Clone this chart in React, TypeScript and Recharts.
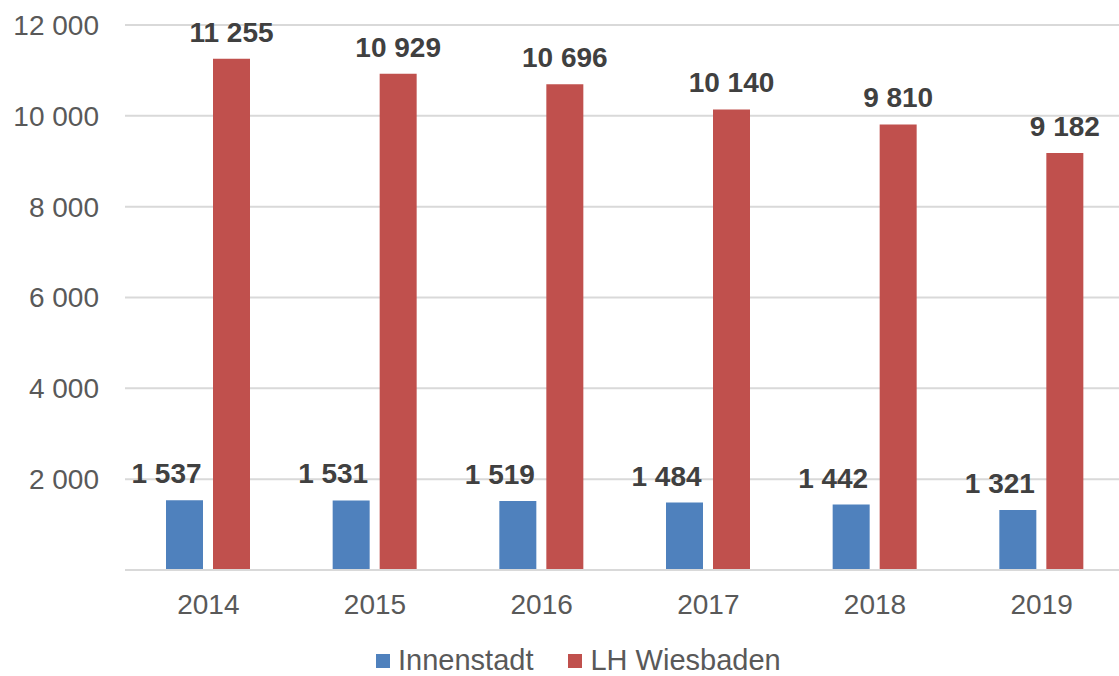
import {
  BarChart,
  Bar,
  XAxis,
  YAxis,
  CartesianGrid,
  Legend,
  LabelList,
} from "recharts";

const years = ["2014", "2015", "2016", "2017", "2018", "2019"];
const innenstadt = [1537, 1531, 1519, 1484, 1442, 1321];
const wiesbaden = [11255, 10929, 10696, 10140, 9810, 9182];
const yTicks = [0, 2000, 4000, 6000, 8000, 10000, 12000];

const BLUE = "#4F81BD";
const RED = "#C0504D";
const FONT = "'Liberation Sans', Arial, sans-serif";

const data = years.map((y, i) => ({
  year: y,
  innenstadt: innenstadt[i],
  wiesbaden: wiesbaden[i],
}));

function fmt(v: number) {
  return String(v).replace(/\B(?=(\d{3})+(?!\d))/g, " ");
}

// the value axis shows no label at zero
function fmtTick(v: number) {
  return v === 0 ? "" : fmt(v);
}

function makeLabel(dx: number) {
  return (props: any) => {
    const { x, y, width, value } = props;
    return (
      <text
        x={x + width / 2 + dx}
        y={y - 17}
        textAnchor="middle"
        fontFamily={FONT}
        fontSize={28}
        fontWeight="bold"
        fill="#404040"
      >
        {fmt(value)}
      </text>
    );
  };
}

function LegendContent() {
  const items = [
    { name: "Innenstadt", color: BLUE },
    { name: "LH Wiesbaden", color: RED },
  ];
  return (
    <div
      style={{
        display: "flex",
        alignItems: "center",
        paddingLeft: 376,
        paddingTop: 16,
        fontFamily: FONT,
        fontSize: 29,
        color: "#595959",
        lineHeight: "29px",
      }}
    >
      {items.map((it, i) => (
        <div
          key={it.name}
          style={{ display: "flex", alignItems: "center", marginRight: i === 0 ? 35 : 0 }}
        >
          <span
            style={{
              display: "inline-block",
              width: 14,
              height: 14,
              background: it.color,
              marginRight: 8,
            }}
          />
          <span>{it.name}</span>
        </div>
      ))}
    </div>
  );
}

export default function App() {
  return (
    <div
      style={{
        position: "absolute",
        left: 0,
        top: 0,
        width: 1119,
        height: 676,
        overflow: "hidden",
        background: "#fff",
      }}
    >
      <BarChart
        width={1125}
        height={676}
        data={data}
        margin={{ top: 25, right: 0, left: 0, bottom: 0 }}
        barCategoryGap={41}
        barGap={10}
        barSize={37}
      >
        <CartesianGrid vertical={false} stroke="#D9D9D9" strokeWidth={2} />
        <XAxis
          dataKey="year"
          height={60}
          tickLine={false}
          axisLine={{ stroke: "#D9D9D9", strokeWidth: 2 }}
          tickMargin={18}
          tick={{ fill: "#595959", fontSize: 28, fontFamily: FONT }}
        />
        <YAxis
          width={125}
          domain={[0, 12000]}
          ticks={yTicks}
          tickFormatter={fmtTick}
          tickLine={false}
          axisLine={false}
          tickMargin={20}
          tick={{ fill: "#595959", fontSize: 28, fontFamily: FONT }}
        />
        <Legend
          verticalAlign="bottom"
          wrapperStyle={{ left: 0, width: 1119, height: 46 }}
          content={() => <LegendContent />}
        />
        <Bar dataKey="innenstadt" name="Innenstadt" fill={BLUE} isAnimationActive={false}>
          <LabelList dataKey="innenstadt" content={makeLabel(-18)} />
        </Bar>
        <Bar dataKey="wiesbaden" name="LH Wiesbaden" fill={RED} isAnimationActive={false}>
          <LabelList dataKey="wiesbaden" content={makeLabel(0)} />
        </Bar>
      </BarChart>
    </div>
  );
}
